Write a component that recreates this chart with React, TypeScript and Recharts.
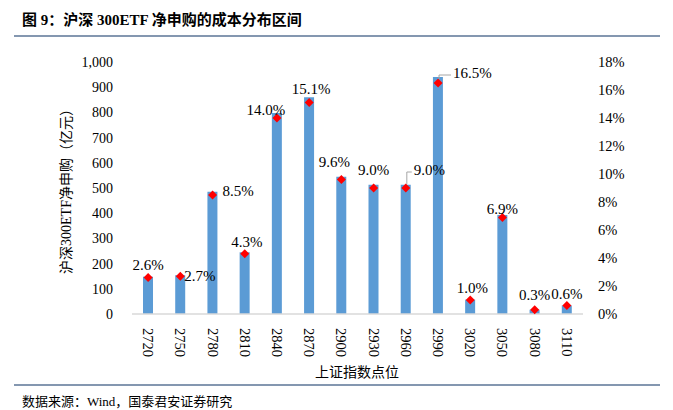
import React from 'react';
import { ComposedChart, Bar, Line, XAxis, YAxis } from 'recharts';

const categories = ['2720', '2750', '2780', '2810', '2840', '2870', '2900', '2930', '2960', '2990', '3020', '3050', '3080', '3110'];
const netSubscription = [148, 154, 485, 245, 798, 860, 545, 513, 513, 940, 57, 393, 17, 34];
const sharePct = [2.6, 2.7, 8.5, 4.3, 14.0, 15.1, 9.6, 9.0, 9.0, 16.5, 1.0, 6.9, 0.3, 0.6];
const leftTicks = [0, 100, 200, 300, 400, 500, 600, 700, 800, 900, 1000];
const rightTicks = [0, 2, 4, 6, 8, 10, 12, 14, 16, 18];

const data = categories.map((name, i) => ({ name, amount: netSubscription[i], pct: sharePct[i] }));

// label placement relative to the diamond: [dx, dy, anchor, leader]
const labelPlace: [number, number, string, boolean][] = [
  [0, -13, 'middle', false],
  [4, 0, 'start', false],
  [10, -4, 'start', false],
  [2, -12, 'middle', false],
  [-11, -8, 'middle', false],
  [2, -14, 'middle', false],
  [-7, -18, 'middle', false],
  [0, -18, 'middle', false],
  [8, -18, 'start', true],
  [15, -10, 'start', true],
  [2, -12, 'middle', false],
  [0, -8, 'middle', false],
  [0, -15, 'middle', false],
  [0, -12, 'middle', false],
];

const SERIF = '"Liberation Serif", "Noto Sans CJK SC", serif';

const Diamond = (props: any) => {
  const { cx, cy } = props;
  if (cx == null || cy == null) return null;
  return <path d={`M${cx},${cy - 4.5} L${cx + 4.5},${cy} L${cx},${cy + 4.5} L${cx - 4.5},${cy} Z`} fill="#ff0000" />;
};

const PctLabel = (props: any) => {
  const { x, y, index, value } = props;
  const [dx, dy, anchor, leader] = labelPlace[index];
  return (
    <g>
      {leader && (
        <polyline
          points={`${x + 1},${y - 4} ${x + 1},${y + dy + 2} ${x + dx - 2},${y + dy + 2}`}
          fill="none"
          stroke="#a6a6a6"
          strokeWidth={1}
        />
      )}
      <text x={x + dx} y={y + dy} textAnchor={anchor} dominantBaseline="central" fontSize={15} fontFamily={SERIF} fill="#000">
        {`${Number(value).toFixed(1)}%`}
      </text>
    </g>
  );
};

const XTick = (props: any) => {
  const { x, y, payload } = props;
  return (
    <text
      transform={`translate(${x},${y + 6}) rotate(90)`}
      textAnchor="start"
      dominantBaseline="central"
      fontSize={14.5}
      fontFamily={SERIF}
      fill="#000"
    >
      {payload.value}
    </text>
  );
};

export default function App() {
  return (
    <div style={{ position: 'absolute', left: 0, top: 0, width: 673, height: 410, background: '#fff', fontFamily: SERIF }}>
      <div style={{ position: 'absolute', left: 22, top: 8, fontSize: 15, fontWeight: 'bold', whiteSpace: 'nowrap' }}>
        图 9：沪深 300ETF 净申购的成本分布区间
      </div>
      <div style={{ position: 'absolute', left: 14, top: 35, width: 646, height: 2, background: '#8497b0' }} />
      <ComposedChart
        width={673}
        height={410}
        data={data}
        margin={{ top: 62, right: 0, left: 0, bottom: 51 }}
        style={{ position: 'absolute', left: 0, top: 0 }}
      >
        <XAxis
          dataKey="name"
          height={45}
          tick={<XTick />}
          tickLine={false}
          axisLine={{ stroke: '#d9d9d9', strokeWidth: 1.5 }}
          interval={0}
        />
        <YAxis
          yAxisId="left"
          width={132}
          domain={[0, 1000]}
          ticks={leftTicks}
          tickFormatter={(v: number) => v.toLocaleString('en-US')}
          tick={{ fontSize: 14, fontFamily: SERIF, fill: '#000' }}
          tickLine={false}
          axisLine={false}
          tickSize={0}
          tickMargin={19}
          label={{
            value: '沪深300ETF净申购（亿元）',
            angle: -90,
            position: 'insideLeft',
            offset: 66,
            style: { fontSize: 14, fontFamily: SERIF, fill: '#000', textAnchor: 'middle' },
          }}
        />
        <YAxis
          yAxisId="right"
          orientation="right"
          width={90}
          domain={[0, 18]}
          ticks={rightTicks}
          tickFormatter={(v: number) => `${v}%`}
          tick={{ fontSize: 14.5, fontFamily: SERIF, fill: '#000' }}
          tickLine={false}
          axisLine={false}
          tickSize={0}
          tickMargin={15}
        />
        <Bar yAxisId="left" dataKey="amount" fill="#5b9bd5" barSize={10} isAnimationActive={false} />
        <Line
          yAxisId="right"
          dataKey="pct"
          stroke="none"
          dot={<Diamond />}
          activeDot={false}
          label={<PctLabel />}
          isAnimationActive={false}
        />
      </ComposedChart>
      <div style={{ position: 'absolute', left: 0, width: 714, top: 361, textAlign: 'center', fontSize: 14 }}>
        上证指数点位
      </div>
      <div style={{ position: 'absolute', left: 14, top: 384, width: 646, height: 2, background: '#8497b0' }} />
      <div style={{ position: 'absolute', left: 22, top: 391, fontSize: 13, whiteSpace: 'nowrap' }}>
        数据来源：Wind，国泰君安证券研究
      </div>
    </div>
  );
}
